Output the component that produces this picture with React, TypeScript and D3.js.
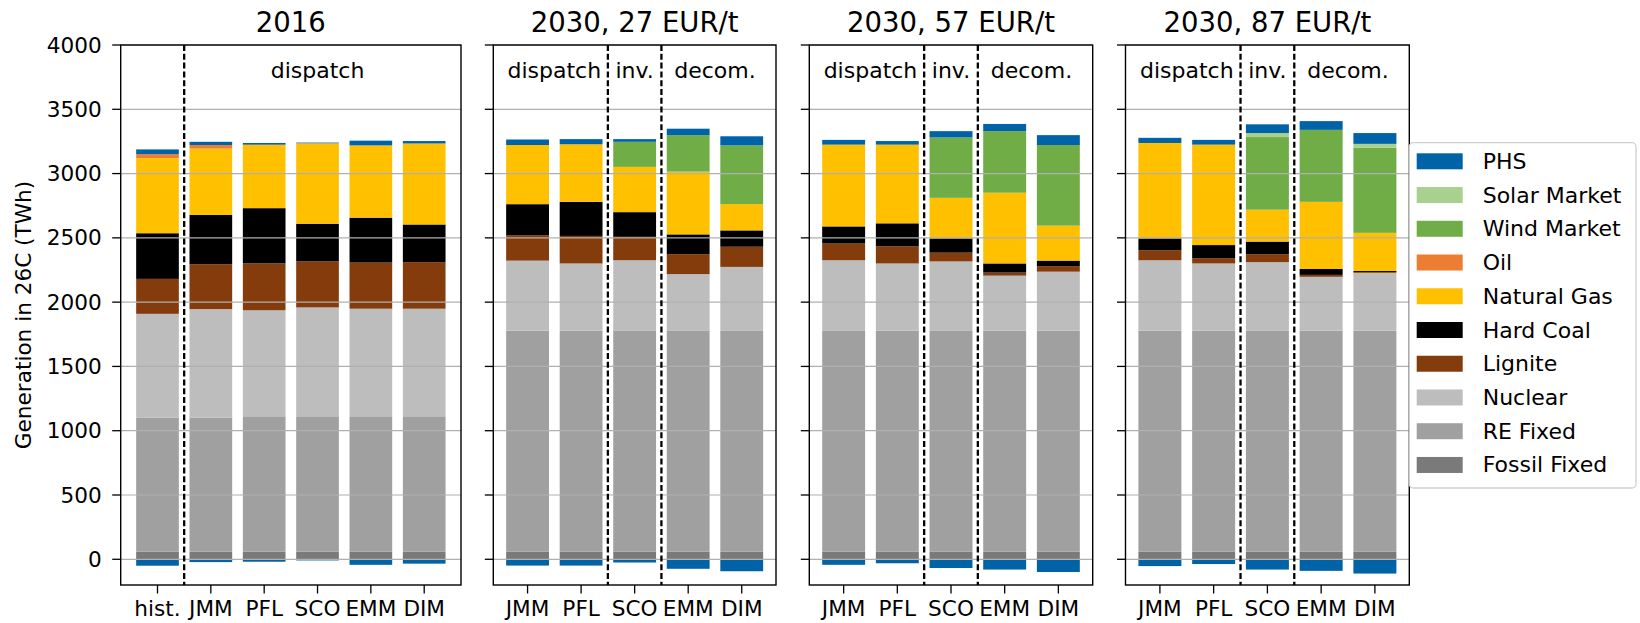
import React from "react";
import * as d3 from "d3";

// ---------- DATA ----------
const panelTitles = ["2016", "2030, 27 EUR/t", "2030, 57 EUR/t", "2030, 87 EUR/t"];
const panel2016Categories = ["hist.", "JMM", "PFL", "SCO", "EMM", "DIM"];
const panel2030Categories = ["JMM", "PFL", "SCO", "EMM", "DIM"];
const panel2016Labels = ["dispatch"];
const panel2030Labels = ["dispatch", "inv.", "decom."];
const yTicks = [0, 500, 1000, 1500, 2000, 2500, 3000, 3500, 4000];

const seriesNames = [
  "Fossil Fixed", "RE Fixed", "Nuclear", "Lignite", "Hard Coal",
  "Natural Gas", "Oil", "Wind Market", "Solar Market", "PHS",
];
const seriesColors = [
  "#7a7a7a", "#a0a0a0", "#bdbdbd", "#843c0c", "#000000",
  "#ffc000", "#ed7d31", "#70ad47", "#a9d18e", "#0063a8",
];

// values per bar (TWh): 6 bars of 2016, then 5 bars each for 27, 57, 87 EUR/t
const fossilFixed = [60, 60, 60, 60, 60, 60, 60, 60, 60, 60, 60, 60, 60, 60, 60, 60, 60, 60, 60, 60, 60];
const reFixed = [1040, 1043, 1052, 1052, 1052, 1052, 1718, 1718, 1720, 1720, 1720, 1716, 1718, 1720, 1718, 1718, 1718, 1718, 1720, 1718, 1718];
const nuclear = [809, 843, 825, 847, 837, 837, 545, 523, 546, 438, 494, 550, 523, 537, 428, 459, 548, 523, 531, 419, 450];
const lignite = [272, 349, 365, 358, 359, 362, 198, 214, 182, 155, 157, 130, 133, 68, 24, 43, 77, 41, 62, 15, 6];
const hardCoal = [355, 383, 429, 293, 349, 293, 241, 265, 192, 154, 127, 133, 179, 111, 71, 43, 93, 102, 98, 46, 8];
const naturalGas = [584, 516, 491, 624, 562, 630, 460, 448, 352, 488, 204, 636, 612, 315, 550, 272, 742, 781, 248, 522, 297];
const oil = [31, 28, 3, 2, 0, 0, 0, 0, 0, 0, 0, 0, 0, 0, 0, 0, 0, 0, 0, 0, 0];
const windMarket = [0, 0, 0, 0, 0, 0, 0, 0, 195, 284, 457, 0, 0, 470, 479, 627, 0, 0, 565, 560, 662];
const solarMarket = [0, 0, 0, 0, 0, 0, 0, 0, 0, 0, 0, 0, 0, 0, 0, 0, 0, 0, 31, 0, 30];
const phsGeneration = [37, 25, 13, 5, 37, 19, 43, 40, 21, 50, 71, 37, 28, 49, 56, 77, 40, 37, 68, 68, 84];
const phsPumping = [-50, -22, -19, -9, -43, -34, -49, -49, -25, -74, -93, -43, -31, -68, -80, -99, -53, -37, -80, -90, -111];

// ---------- LAYOUT ----------
const W = 1640;
const H = 623;
const FONT = "DejaVu Sans, sans-serif";
const axTop = 45;
const axBottom = 585;
const panelBoxes = [
  { x0: 120.7, x1: 461 },
  { x0: 493.3, x1: 776 },
  { x0: 809.3, x1: 1092.7 },
  { x0: 1125.5, x1: 1409.3 },
];

const y = d3.scaleLinear().domain([-200, 4000]).range([axBottom, axTop]);

const allSeries = [fossilFixed, reFixed, nuclear, lignite, hardCoal, naturalGas, oil, windMarket, solarMarket, phsGeneration];

function buildRows(offset: number, n: number) {
  const rows: Record<string, number>[] = [];
  for (let i = 0; i < n; i++) {
    const r: Record<string, number> = {};
    seriesNames.forEach((name, k) => (r[name] = allSeries[k][offset + i]));
    r.__neg = phsPumping[offset + i];
    rows.push(r);
  }
  return rows;
}

function Panel({ idx }: { idx: number }) {
  const first = idx === 0;
  const cats = first ? panel2016Categories : panel2030Categories;
  const offset = first ? 0 : 6 + (idx - 1) * 5;
  const n = cats.length;
  const box = panelBoxes[idx];
  const x = d3.scaleLinear().domain([-0.4 - 0.05 * (n - 0.2), n - 0.6 + 0.05 * (n - 0.2)]).range([box.x0, box.x1]);
  const rows = buildRows(offset, n);
  const stacked = d3.stack<Record<string, number>>().keys(seriesNames)(rows);
  const bw = x(0.8) - x(0);
  const dividers = first ? [0.5] : [1.5, 2.5];
  const labelsX = first ? [3] : [0.5, 2, 3.5];
  const labels = first ? panel2016Labels : panel2030Labels;

  return (
    <g>
      {stacked.map((layer, k) => (
        <g key={seriesNames[k]} fill={seriesColors[k]}>
          {layer.map((d, i) =>
            d[1] - d[0] > 0 ? (
              <rect key={i} x={x(i) - bw / 2} width={bw} y={y(d[1])} height={y(d[0]) - y(d[1])} />
            ) : null
          )}
        </g>
      ))}
      <g fill={seriesColors[9]}>
        {rows.map((r, i) => (
          <rect key={i} x={x(i) - bw / 2} width={bw} y={y(0)} height={y(r.__neg) - y(0)} />
        ))}
      </g>
      {/* grid */}
      {yTicks.map((t) => (
        <line key={t} x1={box.x0} x2={box.x1} y1={y(t)} y2={y(t)} stroke="#b0b0b0" strokeWidth={1.2} />
      ))}
      {/* dividers */}
      {dividers.map((dv) => (
        <line key={dv} x1={x(dv)} x2={x(dv)} y1={axTop} y2={axBottom} stroke="#000" strokeWidth={2.3} strokeDasharray="6,2.8" />
      ))}
      {labels.map((lb, i) => (
        <text key={lb} x={x(labelsX[i])} y={y(3800)} textAnchor="middle" dominantBaseline="central" fontSize={22} fontFamily={FONT}>
          {lb}
        </text>
      ))}
      {/* frame */}
      <rect x={box.x0} y={axTop} width={box.x1 - box.x0} height={axBottom - axTop} fill="none" stroke="#000" strokeWidth={1.4} />
      {/* y ticks */}
      {yTicks.map((t) => (
        <g key={t}>
          <line x1={box.x0 - 8.5} x2={box.x0} y1={y(t)} y2={y(t)} stroke="#000" strokeWidth={1.3} />
          {first ? (
            <text x={box.x0 - 19} y={y(t)} textAnchor="end" dominantBaseline="central" fontSize={21.6} fontFamily={FONT}>
              {t}
            </text>
          ) : null}
        </g>
      ))}
      {/* x ticks */}
      {cats.map((c, i) => (
        <g key={c}>
          <line x1={x(i)} x2={x(i)} y1={axBottom} y2={axBottom + 8.5} stroke="#000" strokeWidth={1.3} />
          <text x={x(i)} y={616} textAnchor="middle" fontSize={21.6} fontFamily={FONT}>
            {c}
          </text>
        </g>
      ))}
      <text x={(box.x0 + box.x1) / 2} y={31.7} textAnchor="middle" fontSize={27.5} fontFamily={FONT}>
        {panelTitles[idx]}
      </text>
    </g>
  );
}

function Legend() {
  const lx = 1409.3;
  const ly = 142.7;
  const lw = 1636 - 1409.3;
  const lh = 488 - 142.7;
  const order = [...seriesNames].reverse();
  const colors = [...seriesColors].reverse();
  return (
    <g>
      <rect x={lx} y={ly} width={lw} height={lh} rx={4} fill="#fff" fillOpacity={0.8} stroke="#d0d0d0" strokeWidth={1.3} />
      {order.map((name, i) => {
        const cy = 161.3 + i * 33.74;
        return (
          <g key={name}>
            <rect x={1416.7} y={cy - 8} width={46} height={16} fill={colors[i]} />
            <text x={1482.7} y={cy} dominantBaseline="central" fontSize={22} fontFamily={FONT}>
              {name}
            </text>
          </g>
        );
      })}
    </g>
  );
}

export default function App() {
  return (
    <svg width={W} height={H} style={{ position: "absolute", left: 0, top: 0, background: "#fff" }}>
      <rect width={W} height={H} fill="#fff" />
      {panelTitles.map((_, i) => (
        <Panel key={i} idx={i} />
      ))}
      <text transform={`translate(23.3,315) rotate(-90)`} textAnchor="middle" dominantBaseline="central" fontSize={21.6} fontFamily={FONT}>
        Generation in 26C (TWh)
      </text>
      <Legend />
    </svg>
  );
}
